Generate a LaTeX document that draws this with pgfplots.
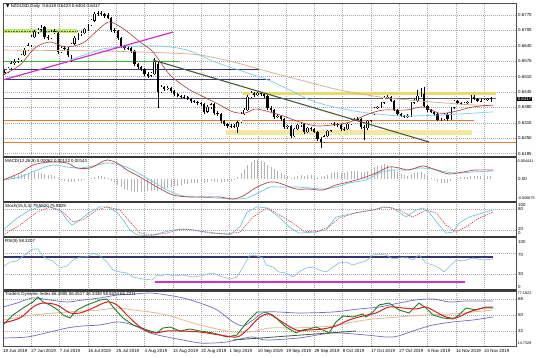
\documentclass[border=0pt]{standalone}
\usepackage{pgfplots}
\pgfplotsset{compat=1.18}
\usepackage{pgfplotstable}
\usepackage{fontspec}
\setmainfont{Liberation Sans}
\newfontfamily\sym{DejaVu Sans}
\newcommand\lab{\fontsize{4.4}{5}\selectfont}
\newcommand\labs{\fontsize{3.8}{4.5}\selectfont}
\definecolor{gridc}{HTML}{A8A8A8}
\definecolor{limec}{HTML}{C9E36A}
\definecolor{dgreen}{HTML}{2E7D2E}
\definecolor{greenl}{HTML}{3CB043}
\definecolor{magc}{HTML}{CC33CC}
\definecolor{navyc}{HTML}{34346E}
\definecolor{pricel}{HTML}{5A5A7A}
\definecolor{yelc}{HTML}{E9D96E}
\definecolor{paley}{HTML}{F3E8A2}
\definecolor{orangec}{HTML}{E07A35}
\definecolor{olivec}{HTML}{4A5A3A}
\definecolor{fastc}{HTML}{B03A3A}
\definecolor{tanc}{HTML}{D9A98A}
\definecolor{cyanc}{HTML}{7FCFE6}
\definecolor{macdred}{HTML}{B5474B}
\definecolor{macdcyan}{HTML}{6EC6DF}
\definecolor{histc}{HTML}{B4B4B4}
\definecolor{stcyan}{HTML}{5FC0D8}
\definecolor{stred}{HTML}{D04545}
\definecolor{rsic}{HTML}{86BAD8}
\definecolor{bandc}{HTML}{6F6FBF}
\definecolor{basec}{HTML}{E8B890}
\definecolor{tdig}{HTML}{1F7F1F}
\definecolor{tdir}{HTML}{D42020}
\definecolor{sepc}{HTML}{3A3A3A}

\pgfplotstableread{
i o h l c
0 0.6521 0.6538 0.6517 0.6529
1 0.6529 0.6551 0.6525 0.6546
2 0.6546 0.6576 0.6542 0.6567
3 0.6567 0.6584 0.6559 0.6572
4 0.6572 0.6589 0.6567 0.6580
5 0.6580 0.6605 0.6576 0.6601
6 0.6601 0.6631 0.6597 0.6622
7 0.6622 0.6652 0.6618 0.6643
8 0.6643 0.6686 0.6635 0.6677
9 0.6677 0.6707 0.6673 0.6698
10 0.6698 0.6715 0.6690 0.6707
11 0.6707 0.6728 0.6702 0.6715
12 0.6719 0.6724 0.6669 0.6677
13 0.6677 0.6686 0.6665 0.6673
14 0.6673 0.6707 0.6669 0.6698
15 0.6698 0.6711 0.6690 0.6702
16 0.6694 0.6698 0.6605 0.6614
17 0.6614 0.6639 0.6610 0.6631
18 0.6631 0.6639 0.6618 0.6627
19 0.6627 0.6635 0.6593 0.6601
20 0.6601 0.6652 0.6572 0.6648
21 0.6648 0.6681 0.6643 0.6673
22 0.6673 0.6694 0.6665 0.6690
23 0.6690 0.6702 0.6681 0.6694
24 0.6694 0.6715 0.6690 0.6711
25 0.6711 0.6732 0.6702 0.6728
26 0.6728 0.6753 0.6724 0.6749
27 0.6745 0.6783 0.6741 0.6774
28 0.6774 0.6787 0.6766 0.6778
29 0.6778 0.6787 0.6766 0.6774
30 0.6774 0.6778 0.6757 0.6766
31 0.6770 0.6778 0.6753 0.6757
32 0.6757 0.6762 0.6698 0.6707
33 0.6707 0.6715 0.6694 0.6702
34 0.6702 0.6707 0.6665 0.6673
35 0.6673 0.6677 0.6631 0.6639
36 0.6639 0.6643 0.6622 0.6631
37 0.6631 0.6639 0.6622 0.6630
38 0.6631 0.6635 0.6610 0.6618
39 0.6618 0.6622 0.6555 0.6563
40 0.6563 0.6567 0.6542 0.6551
41 0.6551 0.6555 0.6534 0.6542
42 0.6542 0.6546 0.6513 0.6521
43 0.6521 0.6529 0.6504 0.6513
44 0.6513 0.6529 0.6508 0.6525
45 0.6521 0.6589 0.6517 0.6572
46 0.6563 0.6572 0.6378 0.6445
47 0.6445 0.6475 0.6441 0.6466
48 0.6466 0.6470 0.6449 0.6458
49 0.6458 0.6470 0.6453 0.6462
50 0.6462 0.6466 0.6441 0.6449
51 0.6449 0.6453 0.6428 0.6437
52 0.6437 0.6441 0.6424 0.6428
53 0.6428 0.6432 0.6416 0.6424
54 0.6424 0.6432 0.6416 0.6423
55 0.6424 0.6428 0.6411 0.6416
56 0.6416 0.6420 0.6399 0.6407
57 0.6407 0.6411 0.6399 0.6403
58 0.6403 0.6407 0.6390 0.6399
59 0.6399 0.6403 0.6386 0.6394
60 0.6394 0.6399 0.6352 0.6361
61 0.6361 0.6390 0.6356 0.6382
62 0.6382 0.6399 0.6373 0.6394
63 0.6394 0.6399 0.6348 0.6356
64 0.6356 0.6365 0.6344 0.6352
65 0.6352 0.6356 0.6314 0.6323
66 0.6323 0.6327 0.6302 0.6310
67 0.6310 0.6314 0.6293 0.6302
68 0.6302 0.6310 0.6293 0.6301
69 0.6302 0.6310 0.6293 0.6303
70 0.6297 0.6323 0.6272 0.6318
71 0.6318 0.6361 0.6314 0.6352
72 0.6352 0.6378 0.6348 0.6369
73 0.6369 0.6432 0.6365 0.6424
74 0.6424 0.6449 0.6420 0.6441
75 0.6441 0.6445 0.6424 0.6432
76 0.6432 0.6445 0.6428 0.6441
77 0.6441 0.6445 0.6428 0.6437
78 0.6437 0.6441 0.6420 0.6428
79 0.6428 0.6432 0.6369 0.6378
80 0.6378 0.6386 0.6361 0.6369
81 0.6369 0.6373 0.6331 0.6340
82 0.6340 0.6352 0.6335 0.6344
83 0.6344 0.6348 0.6323 0.6331
84 0.6331 0.6335 0.6289 0.6297
85 0.6297 0.6306 0.6289 0.6302
86 0.6302 0.6306 0.6251 0.6259
87 0.6259 0.6293 0.6255 0.6289
88 0.6289 0.6310 0.6285 0.6306
89 0.6306 0.6318 0.6297 0.6310
90 0.6310 0.6314 0.6268 0.6276
91 0.6276 0.6297 0.6272 0.6293
92 0.6293 0.6297 0.6281 0.6289
93 0.6289 0.6293 0.6272 0.6276
94 0.6276 0.6281 0.6238 0.6247
95 0.6247 0.6255 0.6209 0.6234
96 0.6234 0.6264 0.6230 0.6259
97 0.6259 0.6285 0.6255 0.6281
98 0.6281 0.6314 0.6276 0.6310
99 0.6310 0.6318 0.6302 0.6309
100 0.6310 0.6314 0.6297 0.6306
101 0.6306 0.6310 0.6281 0.6289
102 0.6289 0.6297 0.6281 0.6290
103 0.6289 0.6314 0.6285 0.6310
104 0.6310 0.6331 0.6306 0.6327
105 0.6327 0.6335 0.6323 0.6331
106 0.6331 0.6340 0.6323 0.6332
107 0.6331 0.6335 0.6289 0.6297
108 0.6297 0.6306 0.6242 0.6293
109 0.6293 0.6327 0.6285 0.6323
110 0.6323 0.6356 0.6318 0.6352
111 0.6352 0.6382 0.6348 0.6378
112 0.6378 0.6386 0.6373 0.6382
113 0.6382 0.6403 0.6378 0.6399
114 0.6399 0.6428 0.6394 0.6420
115 0.6420 0.6432 0.6416 0.6424
116 0.6424 0.6428 0.6403 0.6407
117 0.6407 0.6411 0.6365 0.6369
118 0.6369 0.6373 0.6344 0.6352
119 0.6352 0.6356 0.6340 0.6344
120 0.6344 0.6348 0.6335 0.6340
121 0.6340 0.6352 0.6335 0.6344
122 0.6344 0.6403 0.6340 0.6399
123 0.6399 0.6416 0.6394 0.6407
124 0.6407 0.6453 0.6403 0.6428
125 0.6428 0.6462 0.6424 0.6437
126 0.6437 0.6466 0.6382 0.6386
127 0.6386 0.6390 0.6361 0.6369
128 0.6369 0.6373 0.6356 0.6361
129 0.6361 0.6365 0.6344 0.6352
130 0.6352 0.6356 0.6323 0.6327
131 0.6327 0.6335 0.6323 0.6331
132 0.6331 0.6356 0.6327 0.6352
133 0.6352 0.6356 0.6323 0.6331
134 0.6331 0.6382 0.6327 0.6378
135 0.6378 0.6411 0.6373 0.6407
136 0.6407 0.6411 0.6394 0.6399
137 0.6399 0.6403 0.6390 0.6394
138 0.6394 0.6403 0.6390 0.6399
139 0.6399 0.6407 0.6394 0.6403
140 0.6403 0.6432 0.6399 0.6424
141 0.6424 0.6432 0.6411 0.6416
142 0.6416 0.6420 0.6403 0.6407
143 0.6407 0.6416 0.6403 0.6408
144 0.6407 0.6416 0.6407 0.6411
145 0.6411 0.6420 0.6407 0.6416
146 0.6418 0.6423 0.6404 0.6417
}\candles

\pgfplotstableread{
i h
0 0
1 0.0002
2 0.0004
3 0.0006
4 0.0008
5 0.0010
6 0.0010
7 0.0012
8 0.0012
9 0.0014
10 0.0012
11 0.0012
12 0.0010
13 0.0008
14 0.0008
15 0.0006
16 0.0002
17 -0.0002
18 -0.0004
19 -0.0006
20 -0.0006
21 -0.0006
22 -0.0004
23 -0.0004
24 -0.0002
25 0
26 0.0002
27 0.0004
28 0.0006
29 0.0006
30 0.0004
31 0.0002
32 -0.0004
33 -0.0008
34 -0.0012
35 -0.0016
36 -0.0020
37 -0.0022
38 -0.0024
39 -0.0026
40 -0.0026
41 -0.0026
42 -0.0026
43 -0.0024
44 -0.0024
45 -0.0022
46 -0.0024
47 -0.0022
48 -0.0020
49 -0.0018
50 -0.0016
51 -0.0014
52 -0.0014
53 -0.0012
54 -0.0010
55 -0.0010
56 -0.0008
57 -0.0008
58 -0.0008
59 -0.0006
60 -0.0008
61 -0.0006
62 -0.0004
63 -0.0006
64 -0.0006
65 -0.0006
66 -0.0006
67 -0.0004
68 -0.0004
69 -0.0002
70 0.0004
71 0.0012
72 0.0020
73 0.0028
74 0.0034
75 0.0038
76 0.0038
77 0.0036
78 0.0034
79 0.0028
80 0.0024
81 0.0020
82 0.0016
83 0.0012
84 0.0008
85 0.0006
86 0.0002
87 0.0004
88 0.0006
89 0.0008
90 0.0006
91 0.0008
92 0.0008
93 0.0006
94 0.0004
95 0.0004
96 0.0006
97 0.0008
98 0.0012
99 0.0014
100 0.0014
101 0.0012
102 0.0012
103 0.0014
104 0.0016
105 0.0016
106 0.0016
107 0.0014
108 0.0014
109 0.0016
110 0.0020
111 0.0024
112 0.0026
113 0.0028
114 0.0030
115 0.0028
116 0.0024
117 0.0018
118 0.0014
119 0.0010
120 0.0008
121 0.0006
122 0.0010
123 0.0012
124 0.0014
125 0.0014
126 0.0010
127 0.0006
128 0.0002
129 -0.0002
130 -0.0006
131 -0.0008
132 -0.0008
133 -0.0008
134 -0.0004
135 0
136 0.0002
137 0.0004
138 0.0004
139 0.0004
140 0.0006
141 0.0006
142 0.0006
143 0.0006
144 0.0006
145 0.0006
146 0.0006
}\hist

\pgfplotsset{panel/.style={
  scale only axis, width=513pt, xmin=3, xmax=516, anchor=south west,
  xtick={3,31.3,59.6,87.9,116.2,144.5,172.8,201.1,229.4,257.7,286,314.3,342.6,370.9,399.2,427.5,455.8,484.1},
  xticklabels={}, yticklabels={},
  xmajorgrids, ymajorgrids,
  major grid style={gridc, line width=0.35pt, dash pattern=on 0.7pt off 1.3pt},
  tick style={draw=none},
  axis line style={draw=black!75, line width=0.6pt},
  clip mode=individual,
}}

\begin{document}
\begin{tikzpicture}
\path[use as bounding box] (0,0) rectangle (536pt,358pt);
\fill[white] (0,0) rectangle (536pt,358pt);

% ---------------- main price panel ----------------
\begin{axis}[panel, at={(3pt,201pt)}, height=154pt, ymin=0.61708, ymax=0.68206,
  ytick={0.6185,0.6250,0.6315,0.6380,0.6445,0.6510,0.6575,0.6640,0.6705,0.6770},
  yticklabels={0.6185,0.6250,0.6315,0.6380,0.6445,0.6510,0.6575,0.6640,0.6705,0.6770},
  yticklabel pos=right, yticklabel style={font=\lab, anchor=west, inner sep=0pt, xshift=2pt}]
% zones
\addplot[limec, line width=4pt] coordinates {(3,0.6702) (77,0.6702)};
\addplot[dgreen, line width=0.5pt, dash pattern=on 0.8pt off 0.8pt] coordinates {(3,0.6702) (77,0.6702)};
\addplot[yelc, line width=3.5pt] coordinates {(243,0.64387) (496,0.64387)};
\addplot[paley, line width=5pt] coordinates {(226,0.62742) (472,0.62742)};
% horizontal lines
\addplot[orangec, line width=0.9pt] coordinates {(3,0.6323) (474,0.6323)};
\addplot[orangec, line width=0.9pt] coordinates {(3,0.6234) (516,0.6234)};
\addplot[navyc, line width=0.9pt] coordinates {(3,0.6542) (259,0.6542)};
\addplot[navyc, line width=0.9pt] coordinates {(3,0.6496) (270,0.6496)};
\addplot[pricel, line width=0.8pt] coordinates {(3,0.6420) (496,0.6420)};
\addplot[greenl, line width=0.9pt] coordinates {(3,0.6572) (180,0.6572)};
% candles: wicks, bodies, white fill of rising candles
\addplot[draw=none, mark=none, forget plot, error bars/.cd, y dir=plus, y explicit, error mark=none,
  error bar style={draw=black, line width=0.35pt}]
  table[x expr=4.5+3.33*\thisrow{i}, y=l, y error expr=\thisrow{h}-\thisrow{l}] {\candles};
\addplot[draw=none, mark=none, forget plot, error bars/.cd, y dir=plus, y explicit, error mark=none,
  error bar style={draw=black, line width=2.3pt}]
  table[x expr=4.5+3.33*\thisrow{i}, y expr={min(\thisrow{o},\thisrow{c})-0.00006}, y error expr={abs(\thisrow{c}-\thisrow{o})+0.00012}] {\candles};
\addplot[draw=none, mark=none, forget plot, error bars/.cd, y dir=plus, y explicit, error mark=none,
  error bar style={draw=white, line width=1.4pt}]
  table[x expr=4.5+3.33*\thisrow{i}, y expr={\thisrow{o}+0.00018}, y error expr={max(\thisrow{c}-\thisrow{o}-0.00036,0)}] {\candles};
% moving averages
\addplot[tanc, line width=0.7pt, smooth] coordinates {(3,0.6622)(100,0.6618)(167,0.6610)(200,0.6601)(233,0.6572)(270,0.6529)(300,0.6496)(340,0.6453)(380,0.6424)(420,0.6407)(460,0.6394)(493,0.6386)};
\addplot[cyanc, line width=0.7pt, smooth] coordinates {(70,0.6580)(93,0.6614)(110,0.6631)(157,0.6639)(187,0.6622)(215,0.6572)(245,0.6529)(268,0.6496)(290,0.6453)(310,0.6411)(330,0.6386)(360,0.6361)(400,0.6344)(440,0.6348)(493,0.6361)};
\addplot[fastc, line width=0.6pt, smooth] coordinates {(3,0.6517)(20,0.6559)(35,0.6631)(50,0.6656)(65,0.6635)(83,0.6652)(100,0.6715)(110,0.6741)(125,0.6707)(140,0.6656)(153,0.6614)(170,0.6517)(190,0.6453)(200,0.6432)(220,0.6390)(233,0.6361)(245,0.6356)(255,0.6373)(266,0.6365)(283,0.6344)(300,0.6318)(316,0.6302)(333,0.6306)(350,0.6318)(366,0.6348)(383,0.6369)(406,0.6369)(423,0.6382)(439,0.6356)(453,0.6361)(473,0.6382)(493,0.6390)};
% trend lines
\addplot[magc, line width=1.2pt] coordinates {(3,0.6496) (173,0.6698)};
\addplot[olivec, line width=1.1pt] coordinates {(153,0.6580) (429,0.6234)};
\end{axis}

% ---------------- MACD ----------------
\begin{axis}[panel, at={(3pt,156pt)}, height=45pt, ymin=-0.0046, ymax=0.0044, ytick=\empty]
\addplot[ycomb, histc, line width=0.45pt, mark=none] table[x expr=4.5+3.33*\thisrow{i}, y=h] {\hist};
\addplot[macdcyan, line width=0.7pt, smooth] coordinates {(3,-0.0002)(20,0.0004)(37,0.0018)(53,0.0028)(67,0.0024)(80,0.0022)(93,0.0026)(107,0.0032)(120,0.0028)(133,0.0018)(150,-0.0002)(167,-0.0022)(183,-0.0034)(200,-0.0036)(217,-0.0038)(233,-0.0040)(247,-0.0038)(260,-0.0026)(270,-0.0016)(279,-0.0016)(296,-0.0016)(309,-0.0018)(323,-0.0020)(336,-0.0016)(349,-0.0008)(366,-0.0002)(379,0.0012)(393,0.0018)(406,0.0018)(419,0.0022)(433,0.0020)(446,0.0014)(459,0.0012)(473,0.0014)(493,0.0016)};
\addplot[macdred, line width=0.7pt, smooth] coordinates {(3,-0.0002)(20,0.0012)(33,0.0028)(50,0.0034)(67,0.0032)(77,0.0022)(90,0.0022)(100,0.0032)(107,0.0038)(117,0.0032)(127,0.0018)(140,0.0004)(157,-0.0016)(173,-0.0032)(190,-0.0036)(207,-0.0036)(220,-0.0036)(233,-0.0040)(243,-0.0034)(257,-0.0016)(270,-0.0006)(279,-0.0008)(296,-0.0020)(309,-0.0020)(323,-0.0022)(336,-0.0012)(349,-0.0006)(363,0.0002)(376,0.0012)(389,0.0024)(399,0.0022)(409,0.0018)(423,0.0026)(436,0.0018)(449,0.0010)(463,0.0014)(476,0.0018)(493,0.0018)};
\end{axis}

% ---------------- Stochastic ----------------
\begin{axis}[panel, at={(3pt,121pt)}, height=35pt, ymin=0, ymax=100, ytick={20,80}]
\addplot[stcyan, line width=0.6pt] coordinates {(3,20)(17,54)(30,77)(40,86)(50,86)(60,77)(67,49)(72,34)(80,49)(90,71)(100,86)(107,86)(117,71)(123,49)(130,20)(137,6)(150,3)(160,11)(173,20)(187,23)(200,17)(217,11)(230,6)(240,29)(247,71)(257,86)(267,83)(279,57)(289,29)(299,11)(313,14)(326,20)(336,57)(346,63)(359,71)(373,77)(383,86)(393,83)(406,57)(416,77)(423,83)(429,71)(439,34)(446,11)(453,14)(459,40)(469,57)(483,69)(493,77)};
\addplot[stred, line width=0.6pt, dash pattern=on 1.4pt off 1pt] coordinates {(3,6)(20,34)(37,71)(50,86)(63,71)(73,43)(83,49)(97,77)(107,86)(120,77)(130,43)(140,11)(153,6)(167,11)(180,23)(193,20)(210,11)(227,9)(240,14)(253,57)(267,83)(283,57)(296,34)(303,17)(316,14)(329,29)(339,54)(356,69)(373,77)(386,86)(399,77)(413,57)(426,77)(436,69)(446,34)(456,14)(466,29)(479,54)(493,71)};
\end{axis}

% ---------------- RSI ----------------
\begin{axis}[panel, at={(3pt,68pt)}, height=53pt, ymin=0, ymax=100, ytick={30,70}]
\addplot[navyc, line width=1.2pt] coordinates {(3,62.3) (493,62.3)};
\addplot[magc, line width=1.2pt] coordinates {(155,15.1) (465,15.1)};
\addplot[rsic, line width=0.6pt] coordinates {(3,43.4)(10,52.8)(17,54.7)(27,69.8)(33,77.4)(38,77.4)(42,66.0)(47,58.5)(53,54.7)(57,47.2)(60,41.5)(67,45.3)(73,56.6)(80,62.3)(87,62.3)(93,69.8)(100,64.2)(107,52.8)(113,37.7)(120,34.0)(127,32.1)(133,24.5)(143,20.8)(152,18.9)(157,28.3)(160,26.4)(167,30.2)(173,26.4)(183,28.3)(193,24.5)(200,26.4)(207,30.2)(213,32.1)(220,26.4)(230,20.8)(237,24.5)(243,43.4)(250,66.0)(257,64.2)(263,60.4)(266,47.2)(273,43.4)(279,34.0)(286,32.1)(293,24.5)(299,34.0)(306,41.5)(313,43.4)(319,37.7)(326,34.0)(333,43.4)(339,50.9)(346,52.8)(353,47.2)(359,50.9)(366,54.7)(373,66.0)(379,67.9)(386,66.0)(393,58.5)(399,60.4)(406,62.3)(413,56.6)(419,66.0)(426,50.9)(433,47.2)(439,41.5)(444,34.0)(449,43.4)(456,56.6)(463,54.7)(473,60.4)(483,56.6)(493,58.5)};
\end{axis}

% ---------------- Traders Dynamic Index ----------------
\begin{axis}[panel, at={(3pt,12pt)}, height=55pt, ymin=15.15, ymax=77.03, ytick={32,50,68},
  xticklabels={18 Jun 2019,27 Jun 2019,7 Jul 2019,16 Jul 2019,25 Jul 2019,4 Aug 2019,13 Aug 2019,22 Aug 2019,1 Sep 2019,10 Sep 2019,19 Sep 2019,29 Sep 2019,8 Oct 2019,17 Oct 2019,27 Oct 2019,5 Nov 2019,14 Nov 2019,24 Nov 2019},
  xticklabel style={font=\lab, anchor=north west, inner sep=0pt, yshift=-3pt}]
\addplot[bandc, line width=0.7pt, smooth] coordinates {(3,59.0)(17,63.5)(33,69.2)(50,66.9)(67,64.7)(83,66.9)(100,69.2)(117,72.5)(133,73.6)(150,74.8)(167,72.5)(183,69.2)(200,63.5)(217,55.7)(233,42.2)(243,37.7)(253,44.4)(266,53.4)(299,52.3)(333,53.4)(359,56.8)(379,59.0)(399,63.5)(416,66.9)(433,68.0)(449,64.7)(466,65.8)(493,65.8)};
\addplot[bandc, line width=0.7pt, smooth] coordinates {(3,24.2)(27,25.3)(50,30.9)(67,35.4)(83,37.7)(100,38.8)(117,42.2)(133,38.8)(150,29.8)(167,25.3)(183,21.9)(200,18.5)(213,18.5)(227,19.7)(240,23.0)(253,25.3)(266,21.9)(299,24.2)(333,29.8)(366,27.5)(393,25.3)(416,33.2)(433,38.8)(453,42.2)(473,44.4)(493,47.8)};
\addplot[basec, line width=0.8pt, smooth] coordinates {(3,44.4)(33,50.0)(67,53.4)(100,55.7)(117,57.9)(133,55.7)(150,53.4)(167,50.0)(183,44.4)(200,38.8)(217,34.3)(233,30.9)(250,30.9)(270,35.4)(293,35.4)(316,36.5)(333,37.7)(353,42.2)(373,45.5)(399,47.8)(426,50.0)(453,51.2)(473,53.4)(493,55.7)};
\addplot[olivec, line width=0.8pt] coordinates {(233,21.9) (356,32.0)};
\addplot[tdig, line width=0.9pt] coordinates {(3,38.8)(13,50.0)(23,57.9)(33,64.7)(38,70.3)(43,64.7)(50,61.3)(58,55.7)(63,50.0)(70,46.7)(77,55.7)(87,61.3)(100,66.9)(107,68.0)(113,59.0)(123,46.7)(133,38.8)(147,33.2)(157,29.8)(163,35.4)(170,36.5)(180,32.0)(190,34.3)(200,32.0)(213,29.8)(227,25.3)(237,27.5)(247,42.2)(257,53.4)(266,53.4)(276,46.7)(286,36.5)(296,29.8)(303,33.2)(309,34.3)(316,36.5)(323,33.2)(329,29.8)(336,42.2)(343,48.9)(353,47.8)(363,51.2)(366,47.8)(373,53.4)(379,61.3)(389,63.5)(399,55.7)(409,52.3)(419,63.5)(426,57.9)(433,50.0)(443,46.7)(453,45.5)(459,50.0)(466,57.9)(476,55.7)(486,59.0)(493,59.0)};
\addplot[tdir, line width=1.0pt, smooth] coordinates {(3,41.0)(20,46.7)(33,59.0)(43,63.5)(57,61.3)(70,52.3)(80,52.3)(93,57.9)(107,64.7)(117,61.3)(127,50.0)(140,36.5)(153,29.8)(167,32.0)(180,32.0)(200,30.9)(220,27.5)(237,25.3)(247,33.2)(260,47.8)(270,51.2)(279,44.4)(296,33.2)(309,33.2)(323,34.3)(336,37.7)(349,44.4)(363,48.9)(376,52.3)(389,59.0)(403,57.9)(416,56.8)(426,59.0)(436,53.4)(446,47.8)(456,46.7)(469,53.4)(483,57.9)(493,57.9)};
\end{axis}

% panel separators and frame
\draw[sepc, line width=1.6pt] (3pt,201pt) -- (516pt,201pt);
\draw[sepc, line width=1.6pt] (3pt,156pt) -- (516pt,156pt);
\draw[sepc, line width=1.6pt] (3pt,121pt) -- (516pt,121pt);
\draw[sepc, line width=1.6pt] (3pt,68pt) -- (516pt,68pt);
\draw[black!70, line width=0.6pt] (3pt,12pt) rectangle (516pt,355pt);

% panel titles
\node[anchor=north west, font=\lab, inner sep=0pt] at (6pt,354pt) {{\sym ▼} NZDUSD,Daily\ \ 0.6418 0.6423 0.6404 0.6417};
\node[anchor=north west, font=\lab, inner sep=0pt] at (5pt,199pt) {MACD(12,26,9) 0.00062 0.00122 0.00143};
\node[anchor=north west, font=\lab, inner sep=0pt] at (5pt,154pt) {Stoch(15,5,4) 79.5820 75.8829};
\node[anchor=north west, font=\lab, inner sep=0pt] at (5pt,119pt) {RSI(9) 58.3207};
\node[anchor=north west, font=\lab, inner sep=0pt] at (5pt,66pt) {Traders Dynamic Index 66.4595 56.4517 46.3438 58.5624 65.2211};

% right-hand scale labels of the indicator panels
\begin{scope}[every node/.style={anchor=west, font=\lab, inner sep=0pt}]
\node[font=\labs] at (517.5pt,197pt) {0.004441};
\node at (518pt,179pt) {0.00};
\node[font=\labs] at (517.5pt,160pt) {-0.006675};
\node at (518pt,153pt) {100};
\node at (518pt,149pt) {80};
\node at (518pt,129pt) {20};
\node at (518pt,125pt) {0};
\node at (518pt,116pt) {100};
\node at (518pt,103pt) {70};
\node at (518pt,84pt) {30};
\node at (518pt,71pt) {0};
\node[font=\labs] at (517.5pt,65pt) {77.1822};
\node at (518pt,59pt) {68};
\node at (518pt,43pt) {50};
\node at (518pt,27pt) {32};
\node[font=\labs] at (517.5pt,15pt) {14.7328};
\end{scope}
\node[anchor=west, fill=black, text=white, font=\lab, inner sep=0.6pt] at (517pt,259pt) {0.6417};
\end{tikzpicture}
\end{document}
